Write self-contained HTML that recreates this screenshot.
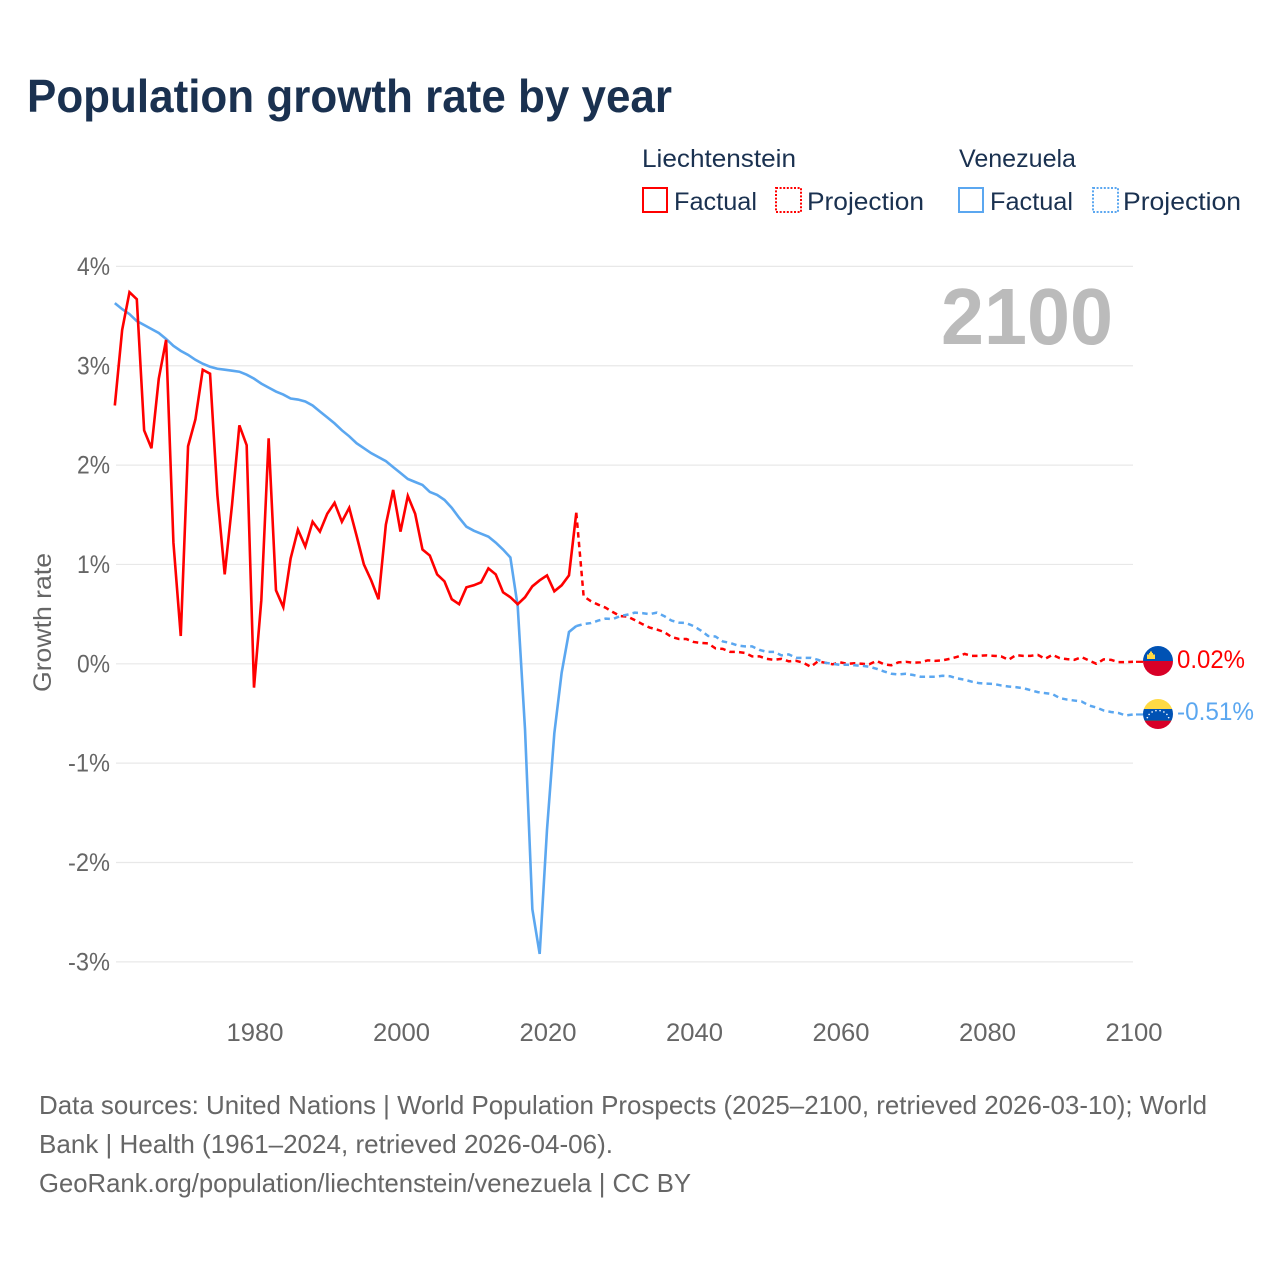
<!DOCTYPE html>
<html lang="en">
<head>
<meta charset="utf-8">
<title>Population growth rate by year</title>
<style>
html,body{margin:0;padding:0;background:#fff;width:1280px;height:1280px;overflow:hidden}
svg{display:block}
text{font-family:"Liberation Sans",sans-serif}
.ink{fill:#1a3150}
.muted{fill:#666}
</style>
</head>
<body>
<svg id="chart" xmlns="http://www.w3.org/2000/svg" width="1280" height="1280" viewBox="0 0 1280 1280">
  <defs>
    <clipPath id="clip-li"><circle cx="1158" cy="661" r="15"/></clipPath>
    <clipPath id="clip-ve"><circle cx="1158" cy="714" r="15"/></clipPath>
  </defs>
  <rect x="0" y="0" width="1280" height="1280" fill="#fff"/>
  <text class="ink" x="27" y="112" font-size="46" font-weight="700" textLength="645" lengthAdjust="spacingAndGlyphs">Population growth rate by year</text>

  <g id="legend" font-size="25">
    <text class="ink" x="642" y="167" textLength="154" lengthAdjust="spacingAndGlyphs">Liechtenstein</text>
    <text class="ink" x="959" y="167" textLength="117" lengthAdjust="spacingAndGlyphs">Venezuela</text>
    <rect x="643" y="188" width="24" height="24" fill="none" stroke="#ff0000" stroke-width="2"/>
    <text class="ink" x="674" y="210" textLength="83" lengthAdjust="spacingAndGlyphs">Factual</text>
    <rect x="776" y="188" width="25" height="24" fill="none" stroke="#ff0000" stroke-width="2" stroke-dasharray="2 1.6"/>
    <text class="ink" x="807" y="210" textLength="117" lengthAdjust="spacingAndGlyphs">Projection</text>
    <rect x="959" y="188" width="24" height="24" fill="none" stroke="#5ba7f0" stroke-width="2"/>
    <text class="ink" x="990" y="210" textLength="83" lengthAdjust="spacingAndGlyphs">Factual</text>
    <rect x="1093" y="188" width="25" height="24" fill="none" stroke="#5ba7f0" stroke-width="2" stroke-dasharray="2 1.6"/>
    <text class="ink" x="1123" y="210" textLength="118" lengthAdjust="spacingAndGlyphs">Projection</text>
  </g>

  <g id="grid"></g>
  <g id="y-ticks"></g>
  <g id="x-ticks"></g>

  <text x="941" y="344" font-size="80" font-weight="700" fill="#bbbbbb" textLength="172" lengthAdjust="spacingAndGlyphs">2100</text>
  <text class="muted" transform="translate(51 692) rotate(-90)" x="0" y="0" font-size="25" textLength="139" lengthAdjust="spacingAndGlyphs">Growth rate</text>

  <g id="series"></g>

  <g clip-path="url(#clip-li)">
    <rect x="1143" y="646" width="30" height="15" fill="#0052b4"/>
    <rect x="1143" y="661" width="30" height="15" fill="#d80027"/>
    <path d="M1147 659v-4.500h2v-1.500h1v-1.500h2v1.500h1v1.500h2v4.500z" fill="#ffda44"/>
  </g>
  <g id="flag-ve" clip-path="url(#clip-ve)">
    <rect x="1143" y="699" width="30" height="10" fill="#ffda44"/>
    <rect x="1143" y="709" width="30" height="11" fill="#0052b4"/>
    <rect x="1143" y="720" width="30" height="1" fill="#4a4a6a"/>
    <rect x="1143" y="721" width="30" height="8" fill="#d80027"/>
  </g>
  <text x="1177" y="668" font-size="25" fill="#ff0000" textLength="68" lengthAdjust="spacingAndGlyphs">0.02%</text>
  <text x="1177" y="720" font-size="25" fill="#5ba7f0" textLength="77" lengthAdjust="spacingAndGlyphs">-0.51%</text>

  <g class="muted" font-size="26">
    <text x="39" y="1114" textLength="1168" lengthAdjust="spacingAndGlyphs">Data sources: United Nations | World Population Prospects (2025–2100, retrieved 2026-03-10); World</text>
    <text x="39" y="1153" textLength="574" lengthAdjust="spacingAndGlyphs">Bank | Health (1961–2024, retrieved 2026-04-06).</text>
    <text x="39" y="1192" textLength="652" lengthAdjust="spacingAndGlyphs">GeoRank.org/population/liechtenstein/venezuela | CC BY</text>
  </g>
</svg>
<script>
const yTickValues = [4, 3, 2, 1, 0, -1, -2, -3];
const xTickYears = [1980, 2000, 2020, 2040, 2060, 2080, 2100];
const factualStartYear = 1961;
const projectionStartYear = 2024;
const liechtensteinFactual = [2.6,3.36,3.74,3.67,2.35,2.17,2.87,3.26,1.22,0.28,2.19,2.46,2.96,2.92,1.7,0.9,1.6,2.4,2.2,-0.24,0.64,2.27,0.74,0.57,1.06,1.35,1.18,1.43,1.33,1.51,1.62,1.43,1.57,1.29,1.0,0.84,0.65,1.4,1.75,1.33,1.69,1.51,1.15,1.09,0.9,0.83,0.65,0.6,0.77,0.79,0.82,0.96,0.9,0.72,0.67,0.6,0.67,0.78,0.84,0.89,0.73,0.79,0.89,1.52];
const venezuelaFactual = [3.63,3.57,3.52,3.45,3.41,3.37,3.33,3.27,3.2,3.15,3.11,3.06,3.02,2.99,2.97,2.96,2.95,2.94,2.91,2.87,2.82,2.78,2.74,2.71,2.67,2.66,2.64,2.6,2.54,2.48,2.42,2.35,2.29,2.22,2.17,2.12,2.08,2.04,1.98,1.92,1.86,1.83,1.8,1.73,1.7,1.65,1.57,1.47,1.38,1.34,1.31,1.28,1.22,1.15,1.07,0.58,-0.66,-2.47,-2.92,-1.67,-0.7,-0.09,0.32,0.38];
const liechtensteinProjection = [1.52,0.68,0.63,0.595,0.565,0.52,0.48,0.475,0.44,0.4,0.365,0.345,0.32,0.27,0.25,0.25,0.22,0.21,0.205,0.155,0.15,0.12,0.12,0.11,0.075,0.075,0.05,0.04,0.05,0.025,0.03,0.01,-0.03,0.025,0.01,-0.005,0.015,0,0.005,0,-0.005,0.03,-0.005,-0.015,0.015,0.02,0.01,0.015,0.035,0.03,0.035,0.05,0.07,0.1,0.08,0.08,0.085,0.08,0.075,0.04,0.087,0.08,0.08,0.09,0.05,0.09,0.057,0.047,0.04,0.067,0.033,0,0.045,0.04,0.017,0.017,0.02];
const venezuelaProjection = [0.38,0.4,0.41,0.435,0.455,0.45,0.48,0.495,0.515,0.51,0.5,0.515,0.48,0.435,0.415,0.41,0.38,0.335,0.28,0.275,0.225,0.21,0.185,0.175,0.175,0.14,0.12,0.12,0.085,0.095,0.06,0.06,0.06,0.04,0.01,0,-0.01,-0.01,-0.015,-0.02,-0.03,-0.05,-0.077,-0.1,-0.107,-0.1,-0.113,-0.13,-0.13,-0.13,-0.12,-0.125,-0.147,-0.16,-0.18,-0.195,-0.2,-0.203,-0.218,-0.228,-0.235,-0.245,-0.265,-0.285,-0.295,-0.305,-0.345,-0.36,-0.37,-0.38,-0.42,-0.44,-0.47,-0.485,-0.495,-0.52,-0.51];

const NS = 'http://www.w3.org/2000/svg';
const xScale = year => 1134 - (2100 - year) * 7.325;
const seriesX = year => xScale(year) - 1;
const yScale = value => 663.8 - value * 99.35;

function make(tag, attrs, parent) {
  const el = document.createElementNS(NS, tag);
  for (const k in attrs) el.setAttribute(k, attrs[k]);
  parent.appendChild(el);
  return el;
}

const gridGroup = document.getElementById('grid');
const yTickGroup = document.getElementById('y-ticks');
yTickValues.forEach(v => {
  const line = make('line', {x1: 116, x2: 1133, y1: yScale(v), y2: yScale(v), stroke: '#e8e8e8', 'stroke-width': 1.2}, gridGroup);
  
  
  const label = v + '%';
  const t = make('text', {x: 110, y: yScale(v) + 8.5, 'text-anchor': 'end', 'font-size': 25, textLength: label.length === 2 ? 33 : 42, lengthAdjust: 'spacingAndGlyphs', fill: '#666'}, yTickGroup);
  
  
  t.textContent = label;
});

const xTickGroup = document.getElementById('x-ticks');
xTickYears.forEach(year => {
  const t = make('text', {x: xScale(year), y: 1041, 'text-anchor': 'middle', 'font-size': 25, textLength: 57, lengthAdjust: 'spacingAndGlyphs', fill: '#666'}, xTickGroup);
  
  
  t.textContent = String(year);
});

function pointsOf(values, startYear) {
  return values.map((v, i) => seriesX(startYear + i).toFixed(2) + ',' + yScale(v).toFixed(2)).join(' ');
}

const seriesGroup = document.getElementById('series');

const liProj = make('polyline', {points: pointsOf(liechtensteinProjection, projectionStartYear), fill: 'none', stroke: '#ff0000', 'stroke-width': 2.5, 'stroke-dasharray': '5.5 4.2', 'stroke-linejoin': 'round'}, seriesGroup);



const veProj = make('polyline', {points: pointsOf(venezuelaProjection, projectionStartYear), fill: 'none', stroke: '#5ba7f0', 'stroke-width': 2.5, 'stroke-dasharray': '5.5 4.2', 'stroke-linejoin': 'round'}, seriesGroup);



const veFact = make('polyline', {points: pointsOf(venezuelaFactual, factualStartYear), fill: 'none', stroke: '#5ba7f0', 'stroke-width': 2.6, 'stroke-linejoin': 'miter'}, seriesGroup);



const liFact = make('polyline', {points: pointsOf(liechtensteinFactual, factualStartYear), fill: 'none', stroke: '#ff0000', 'stroke-width': 2.6, 'stroke-linejoin': 'miter'}, seriesGroup);



const liLast = liechtensteinProjection[liechtensteinProjection.length - 1];
const liLeader = make('line', {x1: 1136, x2: 1143, y1: yScale(liLast), y2: yScale(liLast), stroke: '#ff0000', 'stroke-width': 2.2}, seriesGroup);



const veLast = venezuelaProjection[venezuelaProjection.length - 1];
const veLeader = make('line', {x1: 1136, x2: 1143, y1: yScale(veLast), y2: yScale(veLast), stroke: '#5ba7f0', 'stroke-width': 2.2}, seriesGroup);



const flagVe = document.getElementById('flag-ve');
for (let i = 0; i < 8; i++) {
  const angle = Math.PI * (0.92 - i * 0.84 / 7);
  make('circle', {cx: 1158 + 11 * Math.cos(angle), cy: 720 - 9.5 * Math.sin(angle), r: 0.8, fill: '#fff'}, flagVe);
}
</script>
</body>
</html>
